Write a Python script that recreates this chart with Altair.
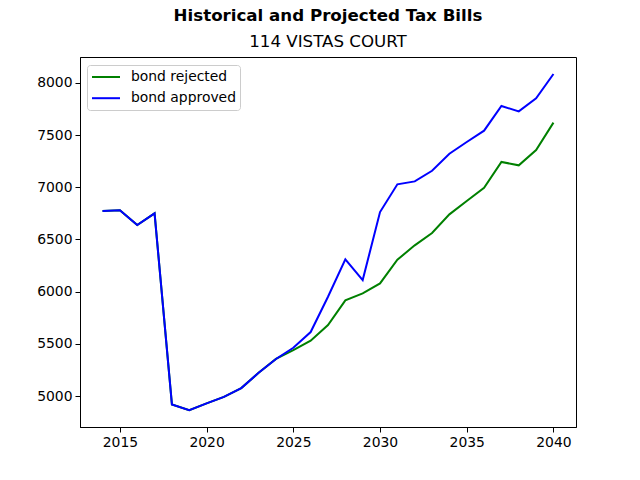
import altair as alt
import pandas as pd

# Tax bill history and projections, one value per year
years = list(range(2014, 2041))

bond_rejected = [
    6773, 6780, 6638, 6751, 4919, 4865, 4929, 4992, 5076, 5223, 5355,
    5440, 5530, 5680, 5916, 5983, 6079, 6306, 6444, 6562, 6741, 6869,
    6996, 7243, 7211, 7358, 7620,
]
bond_approved = [
    6773, 6780, 6638, 6751, 4919, 4865, 4929, 4992, 5076, 5223, 5355,
    5462, 5613, 5951, 6310, 6111, 6763, 7029, 7057, 7159, 7322, 7434,
    7543, 7779, 7728, 7853, 8086,
]

series_names = ["bond rejected", "bond approved"]
series_colors = ["#008000", "#0000ff"]

rows = []
for name, vals in zip(series_names, [bond_rejected, bond_approved]):
    for yr, v in zip(years, vals):
        rows.append({"year": yr, "tax": v, "scenario": name})
df = pd.DataFrame(rows)

FONT = "DejaVu Sans"

x_enc = alt.X(
    "year:Q",
    scale=alt.Scale(domain=[2012.7, 2041.3], nice=False, zero=False),
    axis=alt.Axis(values=[2015, 2020, 2025, 2030, 2035, 2040], format="d",
                  title=None, grid=False),
)
y_enc = alt.Y(
    "tax:Q",
    scale=alt.Scale(domain=[4703, 8249], nice=False, zero=False),
    axis=alt.Axis(values=[5000, 5500, 6000, 6500, 7000, 7500, 8000], format="d",
                  title=None, grid=False),
)
color_enc = alt.Color(
    "scenario:N",
    scale=alt.Scale(domain=series_names, range=series_colors),
    legend=alt.Legend(
        title=None,
        orient="none",
        legendX=7,
        legendY=8,
        # 28px horizontal stroke starting at the left edge of the symbol slot
        symbolType="M-1,0H3",
        symbolSize=196,
        symbolStrokeWidth=2,
        labelFontSize=13.9,
        labelFont=FONT,
        labelColor="black",
        labelOffset=24,
        rowPadding=6.2,
        padding=4,
        fillColor="white",
        strokeColor="#cccccc",
        cornerRadius=3,
    ),
)

base = alt.Chart(df).mark_line(strokeWidth=2).encode(x=x_enc, y=y_enc, color=color_enc)

rejected = base.transform_filter(alt.datum.scenario == "bond rejected")
approved = base.transform_filter(alt.datum.scenario == "bond approved")

chart = (
    alt.layer(rejected, approved)
    .properties(
        width=496,
        height=370,
        background="white",
        autosize=alt.AutoSizeParams(type="none"),
        padding={"left": 80, "top": 57, "right": 64, "bottom": 53},
        title=alt.TitleParams(
            text="Historical and Projected Tax Bills",
            subtitle="114 VISTAS COURT",
            font=FONT,
            fontSize=16.67,
            fontWeight="bold",
            color="black",
            subtitleFont=FONT,
            subtitleFontSize=16.67,
            subtitleColor="black",
            subtitlePadding=9.6,
            anchor="middle",
            offset=6.5,
        ),
    )
    .configure_view(stroke="black", strokeWidth=1)
    .configure_axis(
        labelFont=FONT,
        labelFontSize=13.9,
        labelColor="black",
        domainColor="black",
        domainWidth=1,
        tickColor="black",
        tickWidth=1,
        tickSize=5,
        labelPadding=3,
        grid=False,
    )
)

chart.save("out.html", embed_options={"renderer": "svg", "actions": False})
